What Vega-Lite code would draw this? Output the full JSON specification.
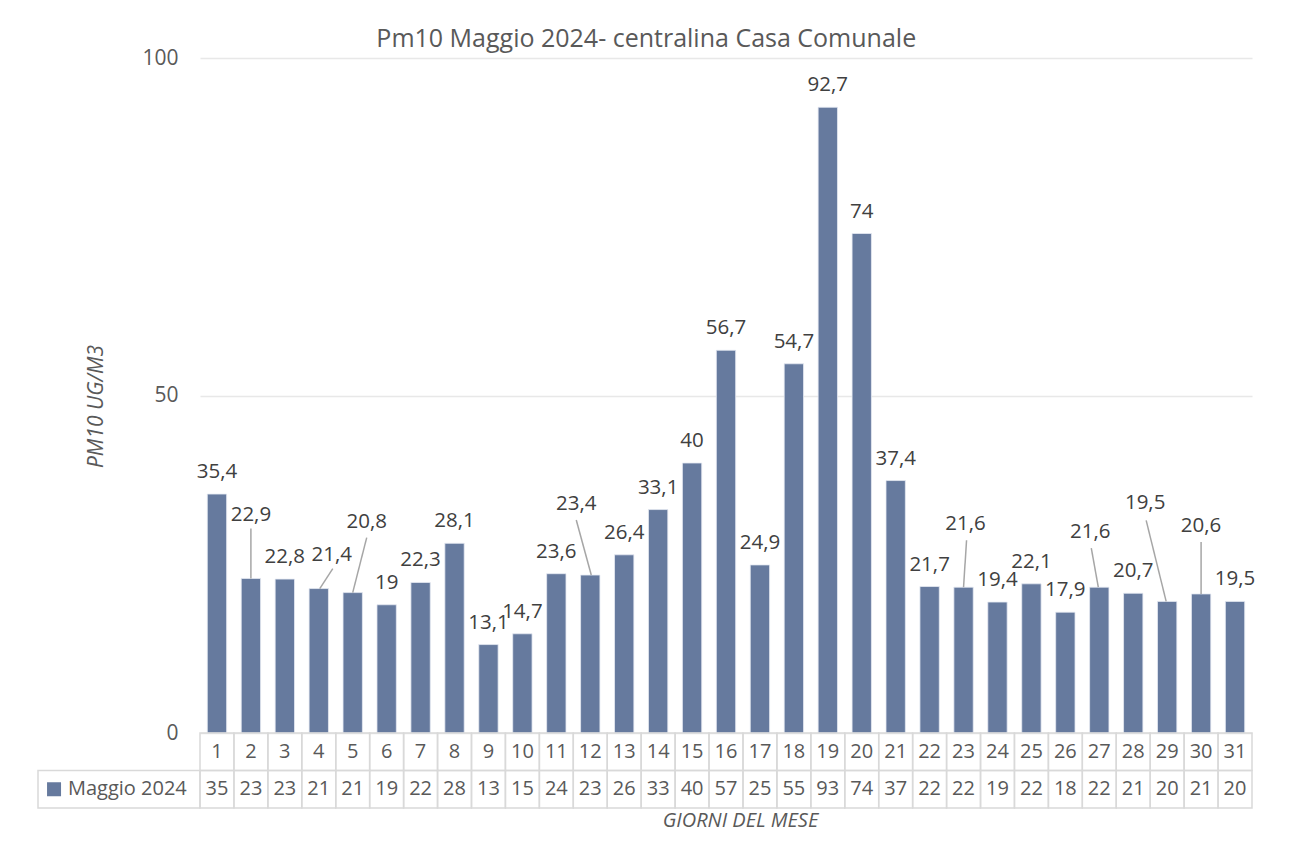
{
  "$schema": "https://vega.github.io/schema/vega-lite/v6.json",
  "padding": {"left": 37, "top": 27, "right": 5, "bottom": 8},
  "background": "white",
  "title": {"text": "Pm10 Maggio 2024- centralina Casa Comunale", "fontSize": 25, "fontWeight": "normal", "color": "#595959", "anchor": "middle", "offset": -5},
  "datasets": {
    "pm": [
      {"day": 1, "v": 35.4}, {"day": 2, "v": 22.9}, {"day": 3, "v": 22.8}, {"day": 4, "v": 21.4},
      {"day": 5, "v": 20.8}, {"day": 6, "v": 19}, {"day": 7, "v": 22.3}, {"day": 8, "v": 28.1},
      {"day": 9, "v": 13.1}, {"day": 10, "v": 14.7}, {"day": 11, "v": 23.6}, {"day": 12, "v": 23.4},
      {"day": 13, "v": 26.4}, {"day": 14, "v": 33.1}, {"day": 15, "v": 40}, {"day": 16, "v": 56.7},
      {"day": 17, "v": 24.9}, {"day": 18, "v": 54.7}, {"day": 19, "v": 92.7}, {"day": 20, "v": 74},
      {"day": 21, "v": 37.4}, {"day": 22, "v": 21.7}, {"day": 23, "v": 21.6}, {"day": 24, "v": 19.4},
      {"day": 25, "v": 22.1}, {"day": 26, "v": 17.9}, {"day": 27, "v": 21.6}, {"day": 28, "v": 20.7},
      {"day": 29, "v": 19.5}, {"day": 30, "v": 20.6}, {"day": 31, "v": 19.5}
    ]
  },
  "bounds": "flush",
  "spacing": 0,
  "hconcat": [
    {
      "width": 162,
      "height": 750,
      "data": {"values": [{"serie": "Maggio 2024"}]},
      "layer": [
        {
          "mark": {"type": "rect", "fill": "transparent", "stroke": "#d9d9d9", "strokeWidth": 1.5},
          "encoding": {
            "x": {"datum": 0, "type": "quantitative", "scale": {"domain": [0, 1]}, "axis": null},
            "x2": {"datum": 1},
            "y": {"datum": -5.5556, "type": "quantitative", "scale": {"domain": [-11.1111, 100], "nice": false}, "axis": null},
            "y2": {"datum": -11.1111}
          }
        },
        {
          "mark": {"type": "point", "shape": "square", "filled": true, "size": 196, "color": "#667A9E", "opacity": 1},
          "encoding": {
            "x": {"datum": 0.099, "type": "quantitative", "scale": {"domain": [0, 1]}, "axis": null},
            "y": {"datum": -8.3333, "type": "quantitative", "scale": {"domain": [-11.1111, 100], "nice": false}, "axis": null}
          }
        },
        {
          "mark": {"type": "text", "align": "left", "baseline": "middle", "fontSize": 20, "color": "#595959"},
          "encoding": {
            "x": {"datum": 0.185, "type": "quantitative", "scale": {"domain": [0, 1]}, "axis": null},
            "y": {"datum": -8.3333, "type": "quantitative", "scale": {"domain": [-11.1111, 100], "nice": false}, "axis": null},
            "text": {"field": "serie"}
          }
        }
      ]
    },
    {
      "width": 1052,
      "height": 750,
      "data": {"name": "pm"},
      "encoding": {
        "x": {"field": "day", "type": "ordinal", "scale": {"paddingInner": 0, "paddingOuter": 0},
          "axis": {"title": "GIORNI DEL MESE", "labels": false, "ticks": false, "domain": false, "titleFontStyle": "italic", "titleFontWeight": "normal", "titleFontSize": 20, "titleColor": "#595959", "titlePadding": 2, "titleX": 540}}
      },
      "layer": [
        {
          "mark": {"type": "bar", "width": {"band": 0.57}, "color": "#667A9E", "stroke": "#e6eaf2", "strokeWidth": 0.8},
          "encoding": {
            "y": {"field": "v", "type": "quantitative", "scale": {"domain": [-11.1111, 100], "nice": false},
              "axis": {"title": "PM10 UG/M3", "values": [0, 50, 100], "titleY": 348}},
            "y2": {"datum": 0}
          }
        },
        {
          "mark": {"type": "rect", "fill": "transparent", "stroke": "#d9d9d9", "strokeWidth": 1.5},
          "encoding": {
            "y": {"datum": 0, "type": "quantitative", "scale": {"domain": [-11.1111, 100], "nice": false}},
            "y2": {"datum": -5.5556}
          }
        },
        {
          "mark": {"type": "rect", "fill": "transparent", "stroke": "#d9d9d9", "strokeWidth": 1.5},
          "encoding": {
            "y": {"datum": -5.5556, "type": "quantitative", "scale": {"domain": [-11.1111, 100], "nice": false}},
            "y2": {"datum": -11.1111}
          }
        },
        {
          "mark": {"type": "text", "baseline": "middle", "fontSize": 20, "color": "#595959"},
          "encoding": {
            "y": {"datum": -2.7778, "type": "quantitative", "scale": {"domain": [-11.1111, 100], "nice": false}},
            "text": {"field": "day", "type": "ordinal"}
          }
        },
        {
          "mark": {"type": "text", "baseline": "middle", "fontSize": 20, "color": "#595959"},
          "encoding": {
            "y": {"datum": -8.3333, "type": "quantitative", "scale": {"domain": [-11.1111, 100], "nice": false}},
            "text": {"field": "v", "type": "quantitative", "format": ".0f"}
          }
        },
        {
          "transform": [{"filter": "indexof([2,4,5,12,23,27,29,30], datum.day) < 0"}],
          "mark": {"type": "text", "baseline": "alphabetic", "dy": -16, "fontSize": 20.5, "color": "#404040"},
          "encoding": {
            "y": {"field": "v", "type": "quantitative", "scale": {"domain": [-11.1111, 100], "nice": false}},
            "text": {"field": "v", "type": "quantitative", "format": ".1~f"}
          }
        },
        {
          "transform": [{"filter": "datum.day == 2"}],
          "mark": {"type": "text", "baseline": "alphabetic", "dx": 0, "dy": -57, "fontSize": 20.5, "color": "#404040"},
          "encoding": {"y": {"field": "v", "type": "quantitative", "scale": {"domain": [-11.1111, 100], "nice": false}}, "text": {"field": "v", "type": "quantitative", "format": ".1~f"}}
        },
        {
          "transform": [{"filter": "datum.day == 2"}],
          "mark": {"type": "rule", "color": "#a6a6a6", "strokeWidth": 1.5, "x2Offset": 0, "y2Offset": -50},
          "encoding": {"y": {"field": "v", "type": "quantitative", "scale": {"domain": [-11.1111, 100], "nice": false}}, "x2": {"field": "day"}, "y2": {"field": "v"}}
        },
        {
          "transform": [{"filter": "datum.day == 4"}],
          "mark": {"type": "text", "baseline": "alphabetic", "dx": 13, "dy": -28, "fontSize": 20.5, "color": "#404040"},
          "encoding": {"y": {"field": "v", "type": "quantitative", "scale": {"domain": [-11.1111, 100], "nice": false}}, "text": {"field": "v", "type": "quantitative", "format": ".1~f"}}
        },
        {
          "transform": [{"filter": "datum.day == 4"}],
          "mark": {"type": "rule", "color": "#a6a6a6", "strokeWidth": 1.5, "xOffset": 1, "x2Offset": 14, "y2Offset": -20},
          "encoding": {"y": {"field": "v", "type": "quantitative", "scale": {"domain": [-11.1111, 100], "nice": false}}, "x2": {"field": "day"}, "y2": {"field": "v"}}
        },
        {
          "transform": [{"filter": "datum.day == 5"}],
          "mark": {"type": "text", "baseline": "alphabetic", "dx": 14, "dy": -65, "fontSize": 20.5, "color": "#404040"},
          "encoding": {"y": {"field": "v", "type": "quantitative", "scale": {"domain": [-11.1111, 100], "nice": false}}, "text": {"field": "v", "type": "quantitative", "format": ".1~f"}}
        },
        {
          "transform": [{"filter": "datum.day == 5"}],
          "mark": {"type": "rule", "color": "#a6a6a6", "strokeWidth": 1.5, "x2Offset": 14, "y2Offset": -55},
          "encoding": {"y": {"field": "v", "type": "quantitative", "scale": {"domain": [-11.1111, 100], "nice": false}}, "x2": {"field": "day"}, "y2": {"field": "v"}}
        },
        {
          "transform": [{"filter": "datum.day == 12"}],
          "mark": {"type": "text", "baseline": "alphabetic", "dx": -14, "dy": -65, "fontSize": 20.5, "color": "#404040"},
          "encoding": {"y": {"field": "v", "type": "quantitative", "scale": {"domain": [-11.1111, 100], "nice": false}}, "text": {"field": "v", "type": "quantitative", "format": ".1~f"}}
        },
        {
          "transform": [{"filter": "datum.day == 12"}],
          "mark": {"type": "rule", "color": "#a6a6a6", "strokeWidth": 1.5, "xOffset": 1, "x2Offset": -14, "y2Offset": -55},
          "encoding": {"y": {"field": "v", "type": "quantitative", "scale": {"domain": [-11.1111, 100], "nice": false}}, "x2": {"field": "day"}, "y2": {"field": "v"}}
        },
        {
          "transform": [{"filter": "datum.day == 23"}],
          "mark": {"type": "text", "baseline": "alphabetic", "dx": 2, "dy": -57, "fontSize": 20.5, "color": "#404040"},
          "encoding": {"y": {"field": "v", "type": "quantitative", "scale": {"domain": [-11.1111, 100], "nice": false}}, "text": {"field": "v", "type": "quantitative", "format": ".1~f"}}
        },
        {
          "transform": [{"filter": "datum.day == 23"}],
          "mark": {"type": "rule", "color": "#a6a6a6", "strokeWidth": 1.5, "x2Offset": 3, "y2Offset": -47},
          "encoding": {"y": {"field": "v", "type": "quantitative", "scale": {"domain": [-11.1111, 100], "nice": false}}, "x2": {"field": "day"}, "y2": {"field": "v"}}
        },
        {
          "transform": [{"filter": "datum.day == 27"}],
          "mark": {"type": "text", "baseline": "alphabetic", "dx": -9, "dy": -49, "fontSize": 20.5, "color": "#404040"},
          "encoding": {"y": {"field": "v", "type": "quantitative", "scale": {"domain": [-11.1111, 100], "nice": false}}, "text": {"field": "v", "type": "quantitative", "format": ".1~f"}}
        },
        {
          "transform": [{"filter": "datum.day == 27"}],
          "mark": {"type": "rule", "color": "#a6a6a6", "strokeWidth": 1.5, "xOffset": -1, "x2Offset": -8, "y2Offset": -39},
          "encoding": {"y": {"field": "v", "type": "quantitative", "scale": {"domain": [-11.1111, 100], "nice": false}}, "x2": {"field": "day"}, "y2": {"field": "v"}}
        },
        {
          "transform": [{"filter": "datum.day == 29"}],
          "mark": {"type": "text", "baseline": "alphabetic", "dx": -22, "dy": -92, "fontSize": 20.5, "color": "#404040"},
          "encoding": {"y": {"field": "v", "type": "quantitative", "scale": {"domain": [-11.1111, 100], "nice": false}}, "text": {"field": "v", "type": "quantitative", "format": ".1~f"}}
        },
        {
          "transform": [{"filter": "datum.day == 29"}],
          "mark": {"type": "rule", "color": "#a6a6a6", "strokeWidth": 1.5, "xOffset": -1, "x2Offset": -21, "y2Offset": -81},
          "encoding": {"y": {"field": "v", "type": "quantitative", "scale": {"domain": [-11.1111, 100], "nice": false}}, "x2": {"field": "day"}, "y2": {"field": "v"}}
        },
        {
          "transform": [{"filter": "datum.day == 30"}],
          "mark": {"type": "text", "baseline": "alphabetic", "dx": 0, "dy": -62, "fontSize": 20.5, "color": "#404040"},
          "encoding": {"y": {"field": "v", "type": "quantitative", "scale": {"domain": [-11.1111, 100], "nice": false}}, "text": {"field": "v", "type": "quantitative", "format": ".1~f"}}
        },
        {
          "transform": [{"filter": "datum.day == 30"}],
          "mark": {"type": "rule", "color": "#a6a6a6", "strokeWidth": 1.5, "x2Offset": 0, "y2Offset": -52},
          "encoding": {"y": {"field": "v", "type": "quantitative", "scale": {"domain": [-11.1111, 100], "nice": false}}, "x2": {"field": "day"}, "y2": {"field": "v"}}
        }
      ]
    }
  ],
  "config": {
    "font": "Open Sans",
    "locale": {"number": {"decimal": ",", "thousands": ".", "grouping": [3], "currency": ["", " €"]}},
    "view": {"stroke": null},
    "axisY": {"grid": true, "gridColor": "#e8e8e8", "gridWidth": 1.5, "domain": false, "ticks": false, "labelPadding": 22, "labelFontSize": 21, "labelColor": "#595959", "titleFontSize": 21, "titleFontWeight": "normal", "titleFontStyle": "italic", "titleColor": "#595959", "titlePadding": 35}
  }
}
